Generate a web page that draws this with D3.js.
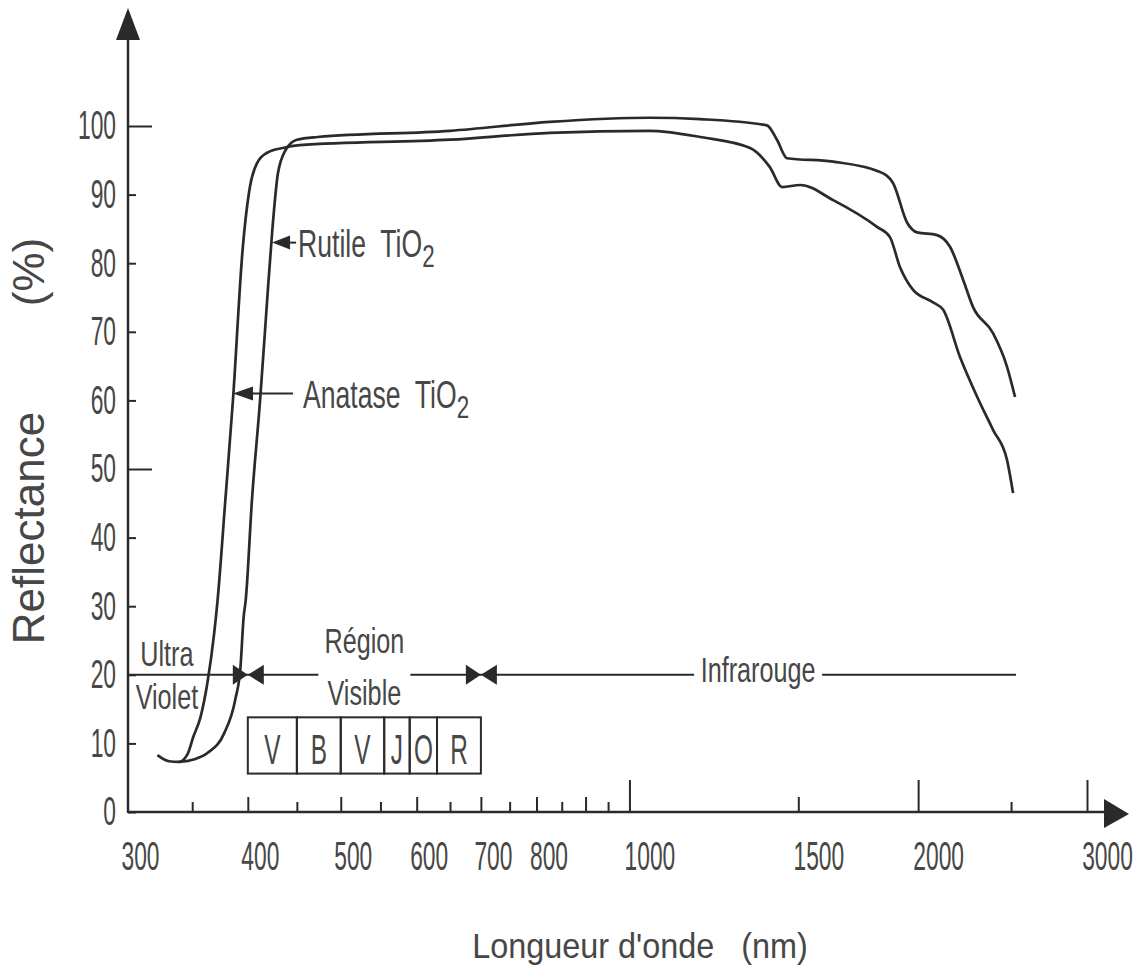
<!DOCTYPE html>
<html>
<head>
<meta charset="utf-8">
<script src="https://cdn.jsdelivr.net/npm/d3@7"></script>
<style>
  body { margin: 0; background: #fff; }
  text { font-family: "Liberation Sans", Arial, sans-serif; fill: #474747; }
</style>
</head>
<body>
<svg id="chart" width="1142" height="974"></svg>
<script>
// reflectance curves, [wavelength nm, reflectance %]
const anatase = [[322,8.3],[331,7.4],[339,7.3],[346,8.4],[351,11],[357,13.8],[363,18.8],[369,26.1],[372,30.9],
  [379,45.5],[386,60.1],[395,81.9],[402,91.1],[409,94.6],[419,96.1],[435,96.8],[453,97.2],[650,98],[826,99],
  [1050,99.3],[1185,98.4],[1336,96.8],[1401,94],[1443,91.1],[1507,91.4],[1631,89.2],[1812,85.3],[1869,83.8],
  [1915,79.4],[1976,76.1],[2073,74.3],[2124,73.2],[2212,66.3],[2305,60.5],[2394,55.7],[2476,51.3],[2512,46.5]]
const rutile = [[339,7.3],[352,7.7],[363,8.6],[378,11.5],[388,16.3],[393,21.1],[396,28.4],[398,30.9],[404,45.5],
  [412,60.1],[419,74.6],[424,84.4],[430,93.1],[438,96.5],[450,98],[473,98.4],[650,99.3],[826,100.6],[1050,101.2],
  [1185,101],[1391,100.1],[1425,98],[1460,95.3],[1631,94.8],[1825,93.3],[1883,91.7],[1948,85.9],[1995,84.5],
  [2093,84.1],[2159,82.4],[2228,77.6],[2282,73.6],[2394,69.8],[2476,64.9],[2524,60.5]]

const yTicks = [0,10,20,30,40,50,60,70,80,90,100]
const yLongTicks = [50,100]
const xLabels = [300,400,500,600,700,800,1000,1500,2000,3000]
const xTallTicks = [1000,2000,3000]
const xMidTicks = [400,500,600,700,800,900,1500]
const xSmallTicks = [350,450,550,650,750,850,950,2500]

// spectral regions drawn along the 20 % line
const regionLevel = 20
const regionBounds = [300,400,700,2530]
const regionNames = [["Ultra","Violet"],["Région","Visible"],["Infrarouge"]]

// visible colours box
const bandLetters = ["V","B","V","J","O","R"]
const bandEdges = [400,450,500,555,590,630,700]
const bandTop = 13.8, bandBottom = 5.6

const curveLabels = [
  {name:"Rutile", nm:424, pct:83},
  {name:"Anatase", nm:386, pct:61}
]

const svg = d3.select("#chart")
const ink = "#2a2a2a"

const x = d3.scaleLog().domain([300,3000]).range([128,1087])
const y = d3.scaleLinear().domain([0,100]).range([812,126])

const sxNum = 0.57, sxTxt = 0.7

// AXES LINES + ARROWS
svg.append("line").attr("x1", x(300)).attr("x2", 1108)
  .attr("y1", y(0)).attr("y2", y(0)).attr("stroke", ink).attr("stroke-width", 2.5)
svg.append("line").attr("x1", x(300)).attr("x2", x(300))
  .attr("y1", y(0) + 1).attr("y2", 36).attr("stroke", ink).attr("stroke-width", 2.5)
svg.append("path").attr("fill", ink)
  .attr("d", `M${x(300)},8 L${x(300) - 12},40 L${x(300) + 12},40 Z`)
svg.append("path").attr("fill", ink)
  .attr("d", `M1129,${y(0) + 2} L1104,${y(0) - 13} L1104,${y(0) + 16} Z`)

// Y AXIS
const gy = svg.append("g").attr("transform", `translate(${x(300)},0)`)
  .call(d3.axisLeft(y).tickValues(yTicks).tickSize(0).tickPadding(12))
gy.select(".domain").remove()
gy.attr("font-family", null).attr("font-size", null)
gy.selectAll(".tick line")
  .attr("x2", d => yLongTicks.includes(d) ? 24 : 8)
  .attr("stroke", ink).attr("stroke-width", 2)
gy.selectAll(".tick text")
  .style("font-size", "40px")
  .attr("x", -12 / sxNum)
  .attr("transform", `scale(${sxNum},1)`)

// X AXIS
const tickLen = d => xTallTicks.includes(d) ? 32 : xMidTicks.includes(d) ? 15 : 10
const gx = svg.append("g").attr("transform", `translate(0,${y(0)})`)
  .call(d3.axisBottom(x)
    .tickValues([300, ...xTallTicks, ...xMidTicks, ...xSmallTicks])
    .tickFormat(d => xLabels.includes(d) ? d : "")
    .tickSize(0).tickPadding(30))
gx.select(".domain").remove()
gx.attr("font-family", null).attr("font-size", null)
gx.selectAll(".tick line")
  .attr("y2", d => d === 300 ? 0 : -tickLen(d))
  .attr("stroke", ink).attr("stroke-width", 2)
gx.selectAll(".tick text")
  .style("font-size", "40px")
  .attr("x", d => (d >= 1000 ? 20 : 12) / sxNum)
  .attr("transform", `scale(${sxNum},1)`)

// AXIS TITLES
svg.append("text")
  .attr("transform", `translate(44,528) rotate(-90)`)
  .attr("text-anchor", "middle").style("font-size", "44px")
  .text("Reflectance")
svg.append("text")
  .attr("transform", `translate(44,272) rotate(-90)`)
  .attr("text-anchor", "middle").style("font-size", "44px")
  .text("(%)")
svg.append("text")
  .attr("transform", `translate(640,958) scale(0.9,1)`)
  .attr("text-anchor", "middle").style("font-size", "36px")
  .style("white-space", "pre")
  .text("Longueur d'onde   (nm)")

// CURVES
const line = d3.line().x(d => x(d[0])).y(d => y(d[1])).curve(d3.curveMonotoneX)
svg.append("g").selectAll("path")
  .data([anatase, rutile])
  .join("path")
  .attr("d", line)
  .attr("fill", "none")
  .attr("stroke", ink)
  .attr("stroke-width", 2.7)
  .attr("stroke-linejoin", "round")

// CURVE LABELS
const leader = {Rutile: [18, 24, 26], Anatase: [20, 60, 70]}
curveLabels.forEach(l => {
  const tx = x(l.nm), ty = y(l.pct)
  const [head, len, gap] = leader[l.name]
  svg.append("path").attr("fill", ink)
    .attr("d", `M${tx},${ty} L${tx + head},${ty - 7} L${tx + head},${ty + 7} Z`)
  svg.append("line").attr("x1", tx + head).attr("x2", tx + len)
    .attr("y1", ty).attr("y2", ty).attr("stroke", ink).attr("stroke-width", 2)
  const t = svg.append("text")
    .attr("transform", `translate(${tx + gap},${ty + 14}) scale(${sxTxt},1)`)
    .style("font-size", "38px").style("white-space", "pre")
  t.append("tspan").text(l.name + "  TiO")
  t.append("tspan").attr("dy", 10).style("font-size", "32px").text("2")
})

// REGIONS LINE
const yl = y(regionLevel)
const gr = svg.append("g")
gr.append("line").attr("x1", x(regionBounds[0])).attr("x2", x(regionBounds[regionBounds.length - 1]))
  .attr("y1", yl).attr("y2", yl).attr("stroke", ink).attr("stroke-width", 2)

// Ultra / Violet
const uvx = (x(regionBounds[0]) + x(regionBounds[1])) / 2 - 21
gr.append("text").attr("transform", `translate(${uvx},${yl - 9}) scale(${sxTxt},1)`)
  .attr("text-anchor", "middle").style("font-size", "36px").text(regionNames[0][0])
gr.append("text").attr("transform", `translate(${uvx},${yl + 34}) scale(${sxTxt},1)`)
  .attr("text-anchor", "middle").style("font-size", "36px").text(regionNames[0][1])

// Région / Visible, with a gap in the line
const vx = x(Math.sqrt(regionBounds[1] * regionBounds[2]))
gr.append("rect").attr("x", vx - 46).attr("y", yl - 4).attr("width", 92).attr("height", 8).attr("fill", "#fff")
gr.append("text").attr("transform", `translate(${vx},${yl - 22}) scale(${sxTxt},1)`)
  .attr("text-anchor", "middle").style("font-size", "36px").text(regionNames[1][0])
gr.append("text").attr("transform", `translate(${vx},${yl + 30}) scale(${sxTxt},1)`)
  .attr("text-anchor", "middle").style("font-size", "36px").text(regionNames[1][1])

// Infrarouge
const ix = x(1362)
gr.append("rect").attr("x", ix - 64).attr("y", yl - 4).attr("width", 128).attr("height", 8).attr("fill", "#fff")
gr.append("text").attr("transform", `translate(${ix},${yl + 7}) scale(${sxTxt},1)`)
  .attr("text-anchor", "middle").style("font-size", "36px").text(regionNames[2][0])

// bow-tie arrows at region boundaries
regionBounds.slice(1, -1).forEach(b => {
  const bx = x(b)
  gr.append("path").attr("fill", ink)
    .attr("d", `M${bx},${yl} L${bx - 15},${yl - 10} L${bx - 15},${yl + 10} Z M${bx},${yl} L${bx + 16},${yl - 10} L${bx + 16},${yl + 10} Z`)
})

// VISIBLE COLOURS BOX
const gb = svg.append("g")
const bands = bandLetters.map((c, i) => ({c, from: bandEdges[i], to: bandEdges[i + 1]}))
gb.selectAll("rect").data(bands).join("rect")
  .attr("x", d => x(d.from)).attr("width", d => x(d.to) - x(d.from))
  .attr("y", y(bandTop)).attr("height", y(bandBottom) - y(bandTop))
  .attr("fill", "none").attr("stroke", ink).attr("stroke-width", 2)
gb.selectAll("text").data(bands).join("text")
  .attr("transform", d => `translate(${(x(d.from) + x(d.to)) / 2},${y(bandBottom) - 10}) scale(0.58,1)`)
  .attr("text-anchor", "middle").style("font-size", "42px")
  .text(d => d.c)
</script>
</body>
</html>
